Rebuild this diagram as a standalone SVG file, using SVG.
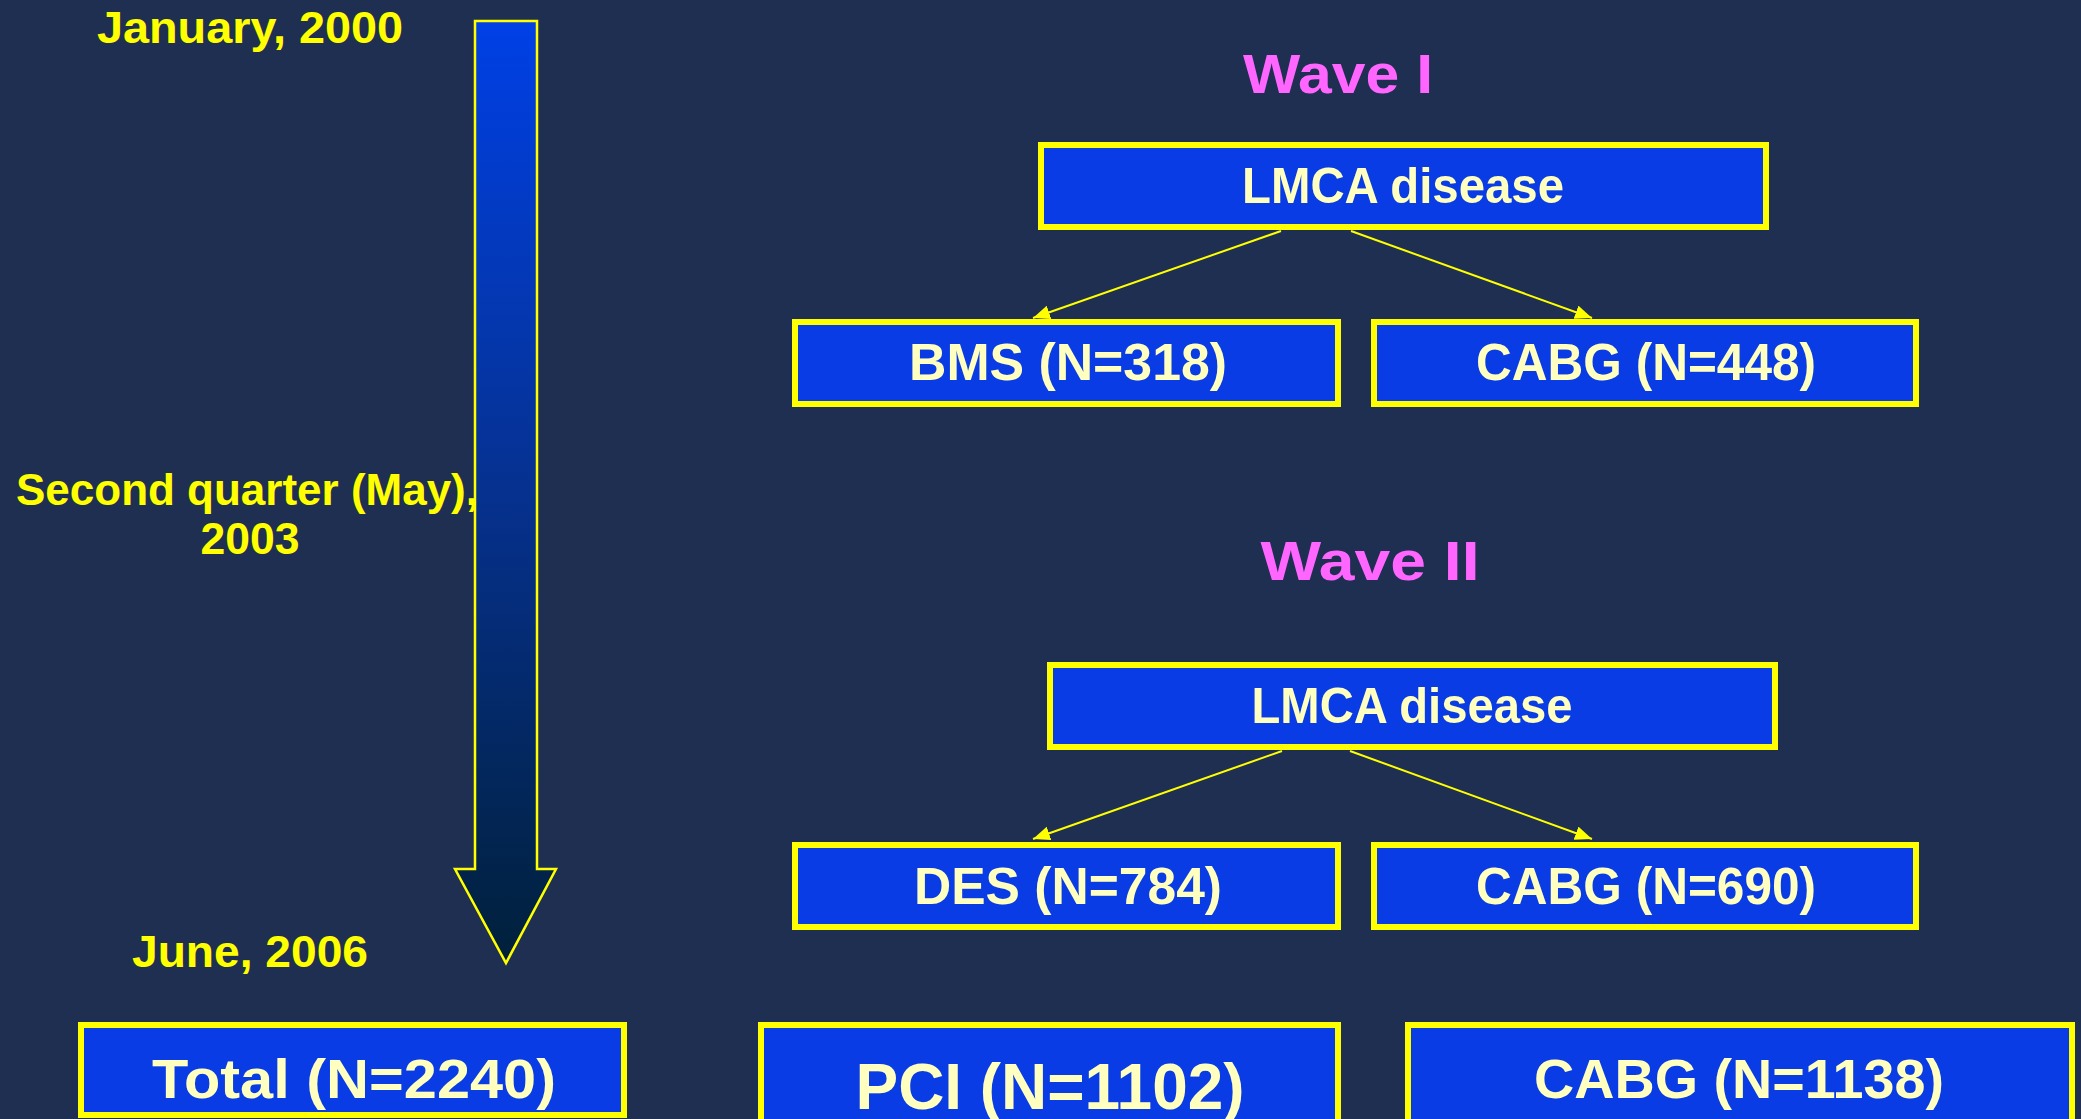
<svg xmlns="http://www.w3.org/2000/svg" width="2081" height="1119" viewBox="0 0 2081 1119">
<defs>
<linearGradient id="shaft" gradientUnits="userSpaceOnUse" x1="0" y1="21" x2="0" y2="963">
<stop offset="0" stop-color="#0040e6"/>
<stop offset="0.5" stop-color="#06318f"/>
<stop offset="1" stop-color="#00203a"/>
</linearGradient>
<marker id="ah" markerUnits="userSpaceOnUse" markerWidth="18" markerHeight="16" refX="17" refY="7" orient="auto">
<path d="M0,0 L17,7 L0,14 Z" fill="#ffff00"/>
</marker>
<style>
.bg{fill:#1f2f52}
.box{fill:#0a3ce6;stroke:#ffff00;stroke-width:6}
.bt{fill:#ffffc0;font-family:"Liberation Sans",Arial,sans-serif;font-weight:bold;text-anchor:middle}
.lab{fill:#ffff00;font-family:"Liberation Sans",Arial,sans-serif;font-weight:bold;text-anchor:middle;font-size:44px}
.wave{fill:#ff66ff;font-family:"Liberation Sans",Arial,sans-serif;font-weight:bold;text-anchor:middle;font-size:55px}
.con{stroke:#ffff00;stroke-width:2;fill:none;marker-end:url(#ah)}
</style>
</defs>
<rect class="bg" x="0" y="0" width="2081" height="1119"/>

<g id="timeline">
<polygon points="475,21 537,21 537,869 556,869 506,963 455,869 475,869" fill="url(#shaft)" stroke="#ffff00" stroke-width="2.5"/>
<text class="lab" x="250" y="43" textLength="306" lengthAdjust="spacingAndGlyphs">January, 2000</text>
<text class="lab" x="247" y="505" textLength="462" lengthAdjust="spacingAndGlyphs">Second quarter (May),</text>
<text class="lab" x="250" y="554" textLength="99" lengthAdjust="spacingAndGlyphs">2003</text>
<text class="lab" x="250" y="967" textLength="236" lengthAdjust="spacingAndGlyphs">June, 2006</text>
</g>

<g id="wave1-title"><text class="wave" x="1338" y="93" textLength="190" lengthAdjust="spacingAndGlyphs">Wave I</text></g>
<g id="wave2-title"><text class="wave" x="1370" y="580" textLength="219" lengthAdjust="spacingAndGlyphs">Wave II</text></g>

<g id="connectors">
<line class="con" x1="1281" y1="231" x2="1033" y2="318"/>
<line class="con" x1="1351" y1="231" x2="1592" y2="318"/>
<line class="con" x1="1282" y1="751" x2="1033" y2="839"/>
<line class="con" x1="1350" y1="751" x2="1592" y2="839"/>
</g>

<g id="lmca1">
<rect class="box" x="1041" y="145" width="725" height="82"/>
<text class="bt" x="1403" y="203" font-size="50" textLength="322" lengthAdjust="spacingAndGlyphs">LMCA disease</text>
</g>
<g id="bms">
<rect class="box" x="795" y="322" width="543" height="82"/>
<text class="bt" x="1068" y="380" font-size="51" textLength="318" lengthAdjust="spacingAndGlyphs">BMS (N=318)</text>
</g>
<g id="cabg448">
<rect class="box" x="1374" y="322" width="542" height="82"/>
<text class="bt" x="1646" y="380" font-size="51" textLength="340" lengthAdjust="spacingAndGlyphs">CABG (N=448)</text>
</g>

<g id="lmca2">
<rect class="box" x="1050" y="665" width="725" height="82"/>
<text class="bt" x="1412" y="723" font-size="50" textLength="321" lengthAdjust="spacingAndGlyphs">LMCA disease</text>
</g>
<g id="des">
<rect class="box" x="795" y="845" width="543" height="82"/>
<text class="bt" x="1068" y="904" font-size="51" textLength="308" lengthAdjust="spacingAndGlyphs">DES (N=784)</text>
</g>
<g id="cabg690">
<rect class="box" x="1374" y="845" width="542" height="82"/>
<text class="bt" x="1646" y="904" font-size="51" textLength="340" lengthAdjust="spacingAndGlyphs">CABG (N=690)</text>
</g>

<g id="total">
<rect class="box" x="81" y="1025" width="543" height="90"/>
<text class="bt" x="354" y="1098" font-size="56" textLength="404" lengthAdjust="spacingAndGlyphs">Total (N=2240)</text>
</g>
<g id="pci">
<rect class="box" x="761" y="1025" width="577" height="110"/>
<text class="bt" x="1050" y="1109" font-size="64" textLength="389" lengthAdjust="spacingAndGlyphs">PCI (N=1102)</text>
</g>
<g id="cabg1138">
<rect class="box" x="1408" y="1025" width="664" height="110"/>
<text class="bt" x="1739" y="1098" font-size="56" textLength="410" lengthAdjust="spacingAndGlyphs">CABG (N=1138)</text>
</g>
</svg>
